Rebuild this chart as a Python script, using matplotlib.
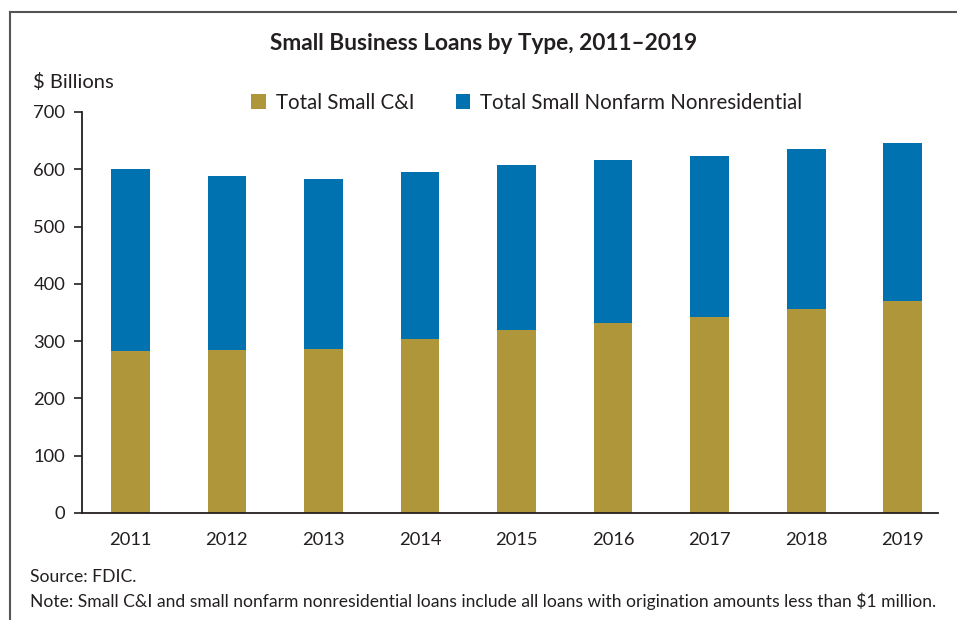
import numpy as np
import matplotlib

matplotlib.use("Agg")
import matplotlib.pyplot as plt
from matplotlib.lines import Line2D

# values ($ billions)
years = ["2011", "2012", "2013", "2014", "2015", "2016", "2017", "2018", "2019"]
small_ci = [283, 284, 286, 304, 319, 332, 342, 356, 370]
small_nonfarm = [317, 304, 297, 291, 288, 284, 281, 279, 276]

GOLD = "#B0963A"
BLUE = "#0072B0"
TXT = "#231F20"

plt.rcParams["font.family"] = ["Lato", "DejaVu Sans"]
plt.rcParams["text.color"] = TXT

fig = plt.figure(figsize=(9.57, 6.2), dpi=100)
ax = fig.add_axes([0.0857, 0.1726, 0.894, 0.6468])

x = np.arange(len(years))
ax.bar(x, small_ci, width=0.4, color=GOLD, label="Total Small C&I")
ax.bar(x, small_nonfarm, width=0.4, bottom=small_ci, color=BLUE,
       label="Total Small Nonfarm Nonresidential")

ax.set_ylim(0, 700)
ax.set_xlim(-0.5, 8.36)
ax.set_yticks(range(0, 701, 100))
ax.set_xticks(x, labels=years)
ax.tick_params(axis="y", direction="out", length=6, width=1.2, colors=TXT,
               labelsize=13.2, pad=6)
ax.tick_params(axis="x", length=0, labelsize=13.2, pad=14, colors=TXT)
for s in ("top", "right"):
    ax.spines[s].set_visible(False)
for s in ("left", "bottom"):
    ax.spines[s].set_linewidth(1.3)
    ax.spines[s].set_color(TXT)

ax.legend(loc="center", bbox_to_anchor=(0.52, 1.023), ncol=2, frameon=False,
          fontsize=14.8, handlelength=0.7, handleheight=0.7, handletextpad=0.5,
          columnspacing=2.0)

fig.text(0.505, 0.93, "Small Business Loans by Type, 2011\u20132019",
         ha="center", va="center", fontsize=16.3, fontweight="bold")
fig.text(0.034, 0.868, "$ Billions", ha="left", va="center", fontsize=14.5)
fig.text(0.031, 0.069, "Source: FDIC.", ha="left", va="center", fontsize=12.6)
fig.text(0.031, 0.031,
         "Note: Small C&I and small nonfarm nonresidential loans include all loans "
         "with origination amounts less than $1 million.",
         ha="left", va="center", fontsize=12.6)

# outer frame (right and bottom edges fall outside the image)
fig.add_artist(Line2D([0.0105, 0.0105], [0.0, 0.981], color="#555555", lw=1.5,
                      transform=fig.transFigure))
fig.add_artist(Line2D([0.0105, 1.0], [0.981, 0.981], color="#555555", lw=1.5,
                      transform=fig.transFigure))

fig.savefig("out.png", dpi=100)
